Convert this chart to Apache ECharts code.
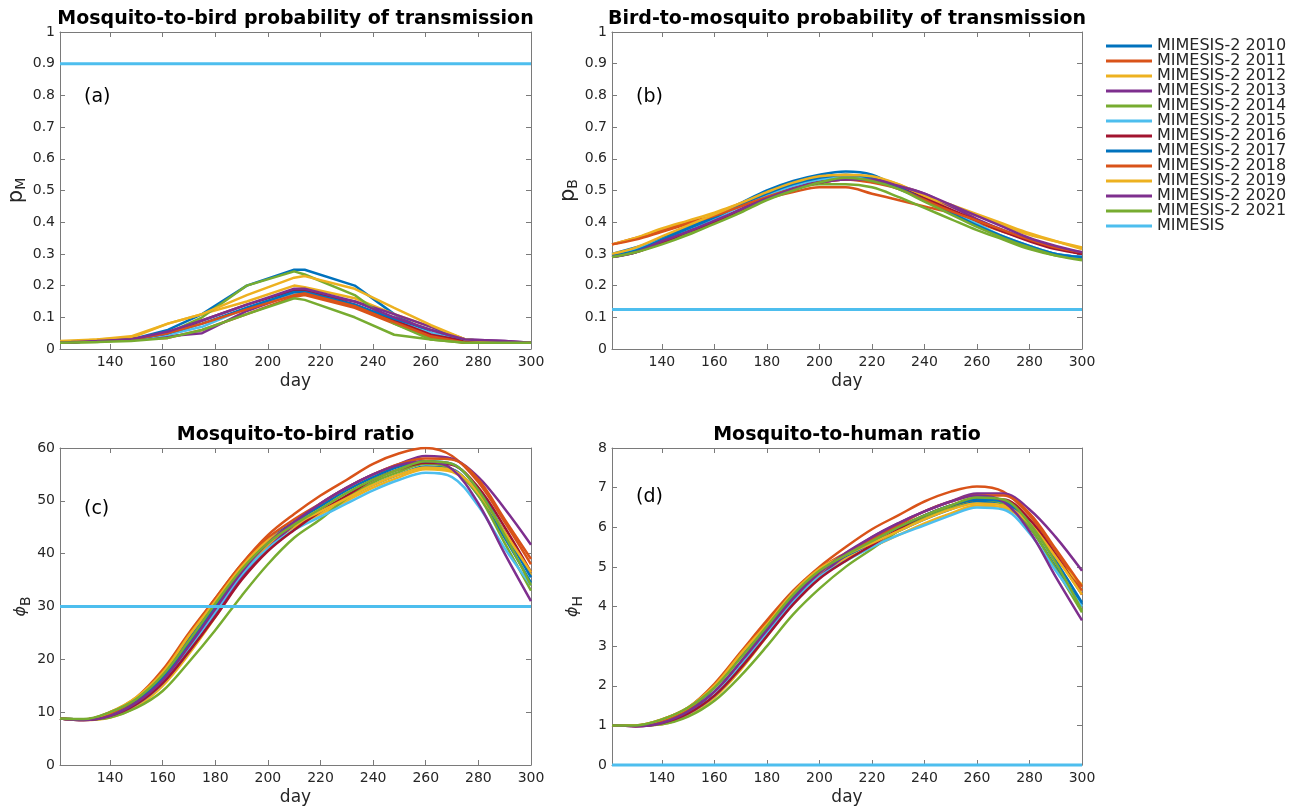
<!DOCTYPE html>
<html><head><meta charset="utf-8">
<script src="https://cdn.jsdelivr.net/npm/echarts@6/dist/echarts.min.js"></script>
<style>html,body{margin:0;padding:0;background:#fff}#c{width:1303px;height:807px}</style>
</head><body><div id="c"></div>
<script>
// ---------- data ----------
const seriesNames = ['MIMESIS-2 2010','MIMESIS-2 2011','MIMESIS-2 2012','MIMESIS-2 2013','MIMESIS-2 2014','MIMESIS-2 2015','MIMESIS-2 2016','MIMESIS-2 2017','MIMESIS-2 2018','MIMESIS-2 2019','MIMESIS-2 2020','MIMESIS-2 2021'];
const refName = 'MIMESIS';
const xTicks = [140,160,180,200,220,240,260,280,300];
const dayRange = [121, 300];

// panel (a): mosquito-to-bird probability (piecewise)
const daysA = [121,135,148,162,175,192,210,214,233,248,262,275,290,300];
const pM = [
  [0.02,0.025,0.03,0.06,0.11,0.20,0.25,0.25,0.20,0.11,0.05,0.025,0.02,0.02],
  [0.02,0.025,0.03,0.035,0.06,0.11,0.165,0.17,0.13,0.08,0.035,0.02,0.02,0.02],
  [0.025,0.03,0.035,0.08,0.11,0.15,0.20,0.195,0.16,0.11,0.07,0.03,0.02,0.02],
  [0.02,0.025,0.03,0.04,0.05,0.12,0.175,0.18,0.15,0.11,0.07,0.03,0.025,0.02],
  [0.02,0.022,0.03,0.05,0.10,0.20,0.245,0.235,0.17,0.08,0.03,0.02,0.02,0.02],
  [0.02,0.025,0.03,0.045,0.07,0.13,0.175,0.18,0.14,0.09,0.05,0.025,0.02,0.02],
  [0.02,0.025,0.03,0.05,0.09,0.14,0.185,0.185,0.14,0.09,0.045,0.025,0.02,0.02],
  [0.02,0.025,0.03,0.05,0.08,0.13,0.18,0.18,0.14,0.095,0.06,0.03,0.02,0.02],
  [0.02,0.025,0.03,0.05,0.08,0.125,0.17,0.175,0.135,0.085,0.04,0.02,0.02,0.02],
  [0.02,0.03,0.04,0.08,0.11,0.17,0.225,0.23,0.19,0.13,0.075,0.03,0.02,0.02],
  [0.02,0.025,0.03,0.055,0.09,0.14,0.19,0.19,0.15,0.10,0.06,0.03,0.025,0.02],
  [0.02,0.022,0.025,0.035,0.06,0.11,0.16,0.155,0.10,0.045,0.03,0.02,0.02,0.02]
];
const pMref = [0.9, 0.9];

// panels (b)-(d): smooth curves
const daysS = [121,130,140,150,160,170,180,190,200,210,220,230,240,250,260,270,280,290,300];
const pB = [
  [0.30,0.32,0.35,0.385,0.42,0.46,0.50,0.53,0.55,0.56,0.55,0.51,0.47,0.43,0.39,0.35,0.32,0.30,0.29],
  [0.33,0.35,0.375,0.40,0.42,0.45,0.475,0.495,0.51,0.51,0.49,0.47,0.45,0.43,0.40,0.37,0.345,0.32,0.30],
  [0.33,0.35,0.38,0.405,0.43,0.46,0.49,0.515,0.535,0.545,0.54,0.52,0.48,0.45,0.42,0.39,0.36,0.34,0.32],
  [0.295,0.31,0.34,0.37,0.40,0.44,0.48,0.51,0.53,0.54,0.535,0.515,0.49,0.45,0.41,0.375,0.345,0.32,0.30],
  [0.29,0.305,0.335,0.365,0.40,0.435,0.475,0.505,0.52,0.52,0.51,0.48,0.445,0.41,0.375,0.345,0.315,0.295,0.285],
  [0.30,0.315,0.345,0.375,0.41,0.45,0.485,0.515,0.535,0.54,0.535,0.505,0.47,0.43,0.395,0.355,0.325,0.30,0.29],
  [0.29,0.305,0.335,0.37,0.40,0.44,0.475,0.505,0.525,0.535,0.53,0.51,0.475,0.44,0.405,0.37,0.34,0.315,0.30],
  [0.295,0.31,0.345,0.38,0.415,0.455,0.49,0.52,0.54,0.55,0.54,0.51,0.47,0.43,0.39,0.355,0.325,0.30,0.29],
  [0.33,0.345,0.37,0.395,0.42,0.45,0.48,0.505,0.525,0.535,0.525,0.505,0.47,0.435,0.405,0.375,0.345,0.32,0.305],
  [0.30,0.32,0.355,0.39,0.425,0.46,0.495,0.525,0.545,0.55,0.545,0.52,0.485,0.455,0.425,0.395,0.365,0.34,0.315],
  [0.29,0.305,0.34,0.37,0.405,0.44,0.475,0.505,0.525,0.535,0.535,0.515,0.49,0.455,0.42,0.385,0.35,0.325,0.305],
  [0.29,0.305,0.33,0.36,0.395,0.43,0.47,0.50,0.525,0.54,0.53,0.505,0.465,0.425,0.385,0.35,0.32,0.295,0.28]
];
const pBref = [0.125, 0.125];

const phiB = [
  [8.8,8.6,9.6,12,16.5,23,30,37,42,45.5,48,50.5,53,55,56.5,56,51,43,34.5],
  [8.8,8.6,10,12.8,18,25,31.5,38,43.5,47.5,51,54,57,59,60,58.5,53.5,46,38],
  [8.8,8.5,9,11,15,21,28,35.5,41.5,45,47.5,50,52.5,54.5,56,55.5,51.5,44,36],
  [8.8,8.5,9.2,11.5,15.5,21.5,28.5,35.5,41,45.5,49.5,52.5,55,57,58.5,58,54.5,48.5,41.7],
  [8.8,8.6,9,10.8,14,19.5,25.5,32,38,43,46.5,50.5,53.5,55.5,57,56,51,42,33],
  [8.8,8.6,9.5,11.5,15.5,22,29,36,41,44.5,47,49.5,52,54,55.3,54.5,49,41,34],
  [8.8,8.5,9.3,11.5,15.5,21.5,28,35,40.5,44.5,48,51,54,56,57.2,56.8,52.5,45,36.5],
  [8.8,8.6,9.8,12.3,17,24,31,37.5,42.5,46,49,52,54.5,56.5,57.5,57,52,44,35.5],
  [8.8,8.6,9.8,12.5,17.5,24.5,31.5,38,43,46.5,49.5,52.5,55,57,58,57.8,54,46.5,39],
  [8.8,8.6,10,12.8,17.5,24.5,31,37.5,42.5,45.5,48,50.5,53,55,56.3,55.8,51.5,44,36.5],
  [8.8,8.5,9.3,11.8,16,22.5,29.5,36.5,42,46,49.5,52.5,55,56.8,57.5,56,49.5,40,31],
  [8.8,8.7,10,12.5,17,23.5,30.5,37,42,45.5,48.5,51.5,54,56,57.5,57,52,43.5,34]
];
const phiBref = [30, 30];

const phiH = [
  [1.0,1.0,1.1,1.35,1.85,2.6,3.45,4.25,4.85,5.25,5.6,5.9,6.2,6.45,6.65,6.6,6.0,5.0,4.05],
  [1.0,1.0,1.15,1.45,2.05,2.85,3.65,4.4,5.0,5.5,5.95,6.3,6.65,6.9,7.03,6.9,6.3,5.4,4.4],
  [1.0,1.0,1.03,1.25,1.7,2.4,3.25,4.1,4.8,5.2,5.5,5.8,6.1,6.35,6.55,6.5,6.05,5.2,4.55],
  [1.0,0.98,1.05,1.3,1.75,2.45,3.3,4.1,4.75,5.3,5.75,6.1,6.4,6.65,6.85,6.85,6.45,5.75,4.9],
  [1.0,1.0,1.03,1.22,1.62,2.25,3.0,3.8,4.45,5.0,5.45,5.9,6.25,6.5,6.7,6.6,6.0,4.95,3.85],
  [1.0,1.0,1.08,1.3,1.75,2.5,3.35,4.15,4.75,5.15,5.5,5.8,6.05,6.3,6.5,6.45,5.85,4.9,4.0],
  [1.0,0.98,1.06,1.3,1.75,2.45,3.25,4.05,4.7,5.15,5.55,5.95,6.3,6.55,6.7,6.7,6.2,5.3,4.3],
  [1.0,1.0,1.12,1.4,1.95,2.75,3.55,4.35,4.9,5.3,5.65,6.0,6.3,6.55,6.7,6.65,6.1,5.15,4.1],
  [1.0,1.0,1.12,1.42,1.98,2.8,3.6,4.35,4.95,5.35,5.7,6.05,6.4,6.65,6.8,6.8,6.35,5.45,4.5],
  [1.0,1.0,1.15,1.45,2.0,2.8,3.55,4.35,4.95,5.3,5.6,5.9,6.2,6.45,6.6,6.55,6.1,5.25,4.3],
  [1.0,0.98,1.06,1.35,1.85,2.6,3.4,4.2,4.85,5.35,5.75,6.1,6.4,6.65,6.8,6.65,5.9,4.75,3.65],
  [1.0,1.0,1.15,1.45,1.95,2.7,3.5,4.3,4.9,5.3,5.65,6.0,6.3,6.55,6.75,6.7,6.1,5.1,3.9]
];
const phiHref = [0, 0];

const titles = ['Mosquito-to-bird probability of transmission','Bird-to-mosquito probability of transmission','Mosquito-to-bird ratio','Mosquito-to-human ratio'];
const panelTags = ['(a)','(b)','(c)','(d)'];
const yRanges = [[0,1,0.1],[0,1,0.1],[0,60,10],[0,8,1]];

// ---------- styling ----------
const colors = ['#0072BD','#D95319','#EDB120','#7E2F8E','#77AC30','#4DBEEE','#A2142F','#0072BD','#D95319','#EDB120','#7E2F8E','#77AC30'];
const refColor = '#4DBEEE';
const txt = '#262626';
const axisCol = '#7a7a7a';
const FONT = 'DejaVu Sans';

const grids = [
  {left:60, top:32, width:471, height:317},
  {left:612, top:32, width:470, height:317},
  {left:60, top:448, width:471, height:318},
  {left:612, top:448, width:470, height:318}
];
const yNames = ['{m|p}{s|M}', '{m|p}{s|B}', '{g|ϕ}{s|B}', '{g|ϕ}{s|H}'];
const yNameGaps = [29, 29, 27, 27];
const nameRich = {
  m: {fontSize: 21, fontFamily: FONT, color: txt, lineHeight: 24},
  g: {fontSize: 16, fontFamily: FONT, fontStyle: 'italic', color: txt, lineHeight: 24},
  s: {fontSize: 14, fontFamily: FONT, color: txt, lineHeight: 12, verticalAlign: 'bottom'}
};

const xAxes = [], yAxes = [], series = [];
grids.forEach((g, i) => {
  xAxes.push({
    gridIndex: i, type: 'value', min: dayRange[0], max: dayRange[1], position: 'bottom',
    name: 'day', nameLocation: 'middle', nameGap: 24,
    nameTextStyle: {fontSize: 17, fontFamily: FONT, color: txt},
    axisLine: {show: true, onZero: false, lineStyle: {color: axisCol, width: 1}},
    axisTick: {show: true, inside: true, length: 5, customValues: xTicks, lineStyle: {color: axisCol}},
    axisLabel: {customValues: xTicks, fontSize: 14, fontFamily: FONT, color: txt, margin: 6},
    splitLine: {show: false}
  });
  xAxes.push({
    gridIndex: i, type: 'value', min: dayRange[0], max: dayRange[1], position: 'top',
    axisLine: {show: true, onZero: false, lineStyle: {color: axisCol, width: 1}},
    axisTick: {show: true, inside: true, length: 5, customValues: xTicks, lineStyle: {color: axisCol}},
    axisLabel: {show: false}, splitLine: {show: false}
  });
  const yr = yRanges[i];
  yAxes.push({
    gridIndex: i, type: 'value', min: yr[0], max: yr[1], interval: yr[2], position: 'left',
    name: yNames[i], nameLocation: 'middle', nameRotate: 90, nameGap: yNameGaps[i],
    nameTextStyle: {rich: nameRich},
    axisLine: {show: true, onZero: false, lineStyle: {color: axisCol, width: 1}},
    axisTick: {show: true, inside: true, length: 5, lineStyle: {color: axisCol}},
    axisLabel: {fontSize: 14, fontFamily: FONT, color: txt, margin: 5},
    splitLine: {show: false}
  });
  yAxes.push({
    gridIndex: i, type: 'value', min: yr[0], max: yr[1], interval: yr[2], position: 'right',
    axisLine: {show: true, onZero: false, lineStyle: {color: axisCol, width: 1}},
    axisTick: {show: true, inside: true, length: 5, lineStyle: {color: axisCol}},
    axisLabel: {show: false}, splitLine: {show: false}
  });
});

const panelData = [pM, pB, phiB, phiH];
const panelRef = [pMref, pBref, phiBref, phiHref];
const panelDays = [daysA, daysS, daysS, daysS];
panelData.forEach((rows, p) => {
  rows.forEach((vals, k) => {
    series.push({
      type: 'line', name: seriesNames[k], xAxisIndex: p*2, yAxisIndex: p*2,
      data: panelDays[p].map((d, j) => [d, vals[j]]),
      smooth: p === 0 ? false : 0.35, showSymbol: false, symbol: 'none',
      lineStyle: {color: colors[k], width: 2.5}, itemStyle: {color: colors[k]},
      clip: true, animation: false, silent: true
    });
  });
  series.push({
    type: 'line', name: refName, xAxisIndex: p*2, yAxisIndex: p*2,
    data: dayRange.map((d, j) => [d, panelRef[p][j]]),
    showSymbol: false, symbol: 'none',
    lineStyle: {color: refColor, width: 3}, itemStyle: {color: refColor},
    clip: false, animation: false, silent: true, z: 3
  });
});

const graphics = [];
grids.forEach((g, i) => {
  graphics.push({type: 'text', x: g.left + g.width/2, y: g.top - 13,
    style: {text: titles[i], font: 'bold 19px "DejaVu Sans"', fill: '#000', align: 'center', verticalAlign: 'middle'}});
});
const tagPos = [[84,97],[636,97],[84,509],[636,497]];
tagPos.forEach((p, i) => {
  graphics.push({type: 'text', x: p[0], y: p[1],
    style: {text: panelTags[i], font: '19px "DejaVu Sans"', fill: '#000', align: 'left', verticalAlign: 'middle'}});
});

const chart = echarts.init(document.getElementById('c'), null, {renderer: 'canvas'});
chart.setOption({
  animation: false,
  backgroundColor: '#fff',
  grid: grids.map(g => Object.assign({containLabel: false, show: false}, g)),
  xAxis: xAxes, yAxis: yAxes, series: series,
  legend: {
    orient: 'vertical', left: 1106, top: 38, padding: 0, itemWidth: 46, itemHeight: 3, itemGap: -1,
    icon: 'rect',
    data: seriesNames.concat([refName]),
    textStyle: {fontSize: 16, fontFamily: FONT, color: txt, lineHeight: 14},
    selectedMode: false
  },
  graphic: graphics
});
</script></body></html>
